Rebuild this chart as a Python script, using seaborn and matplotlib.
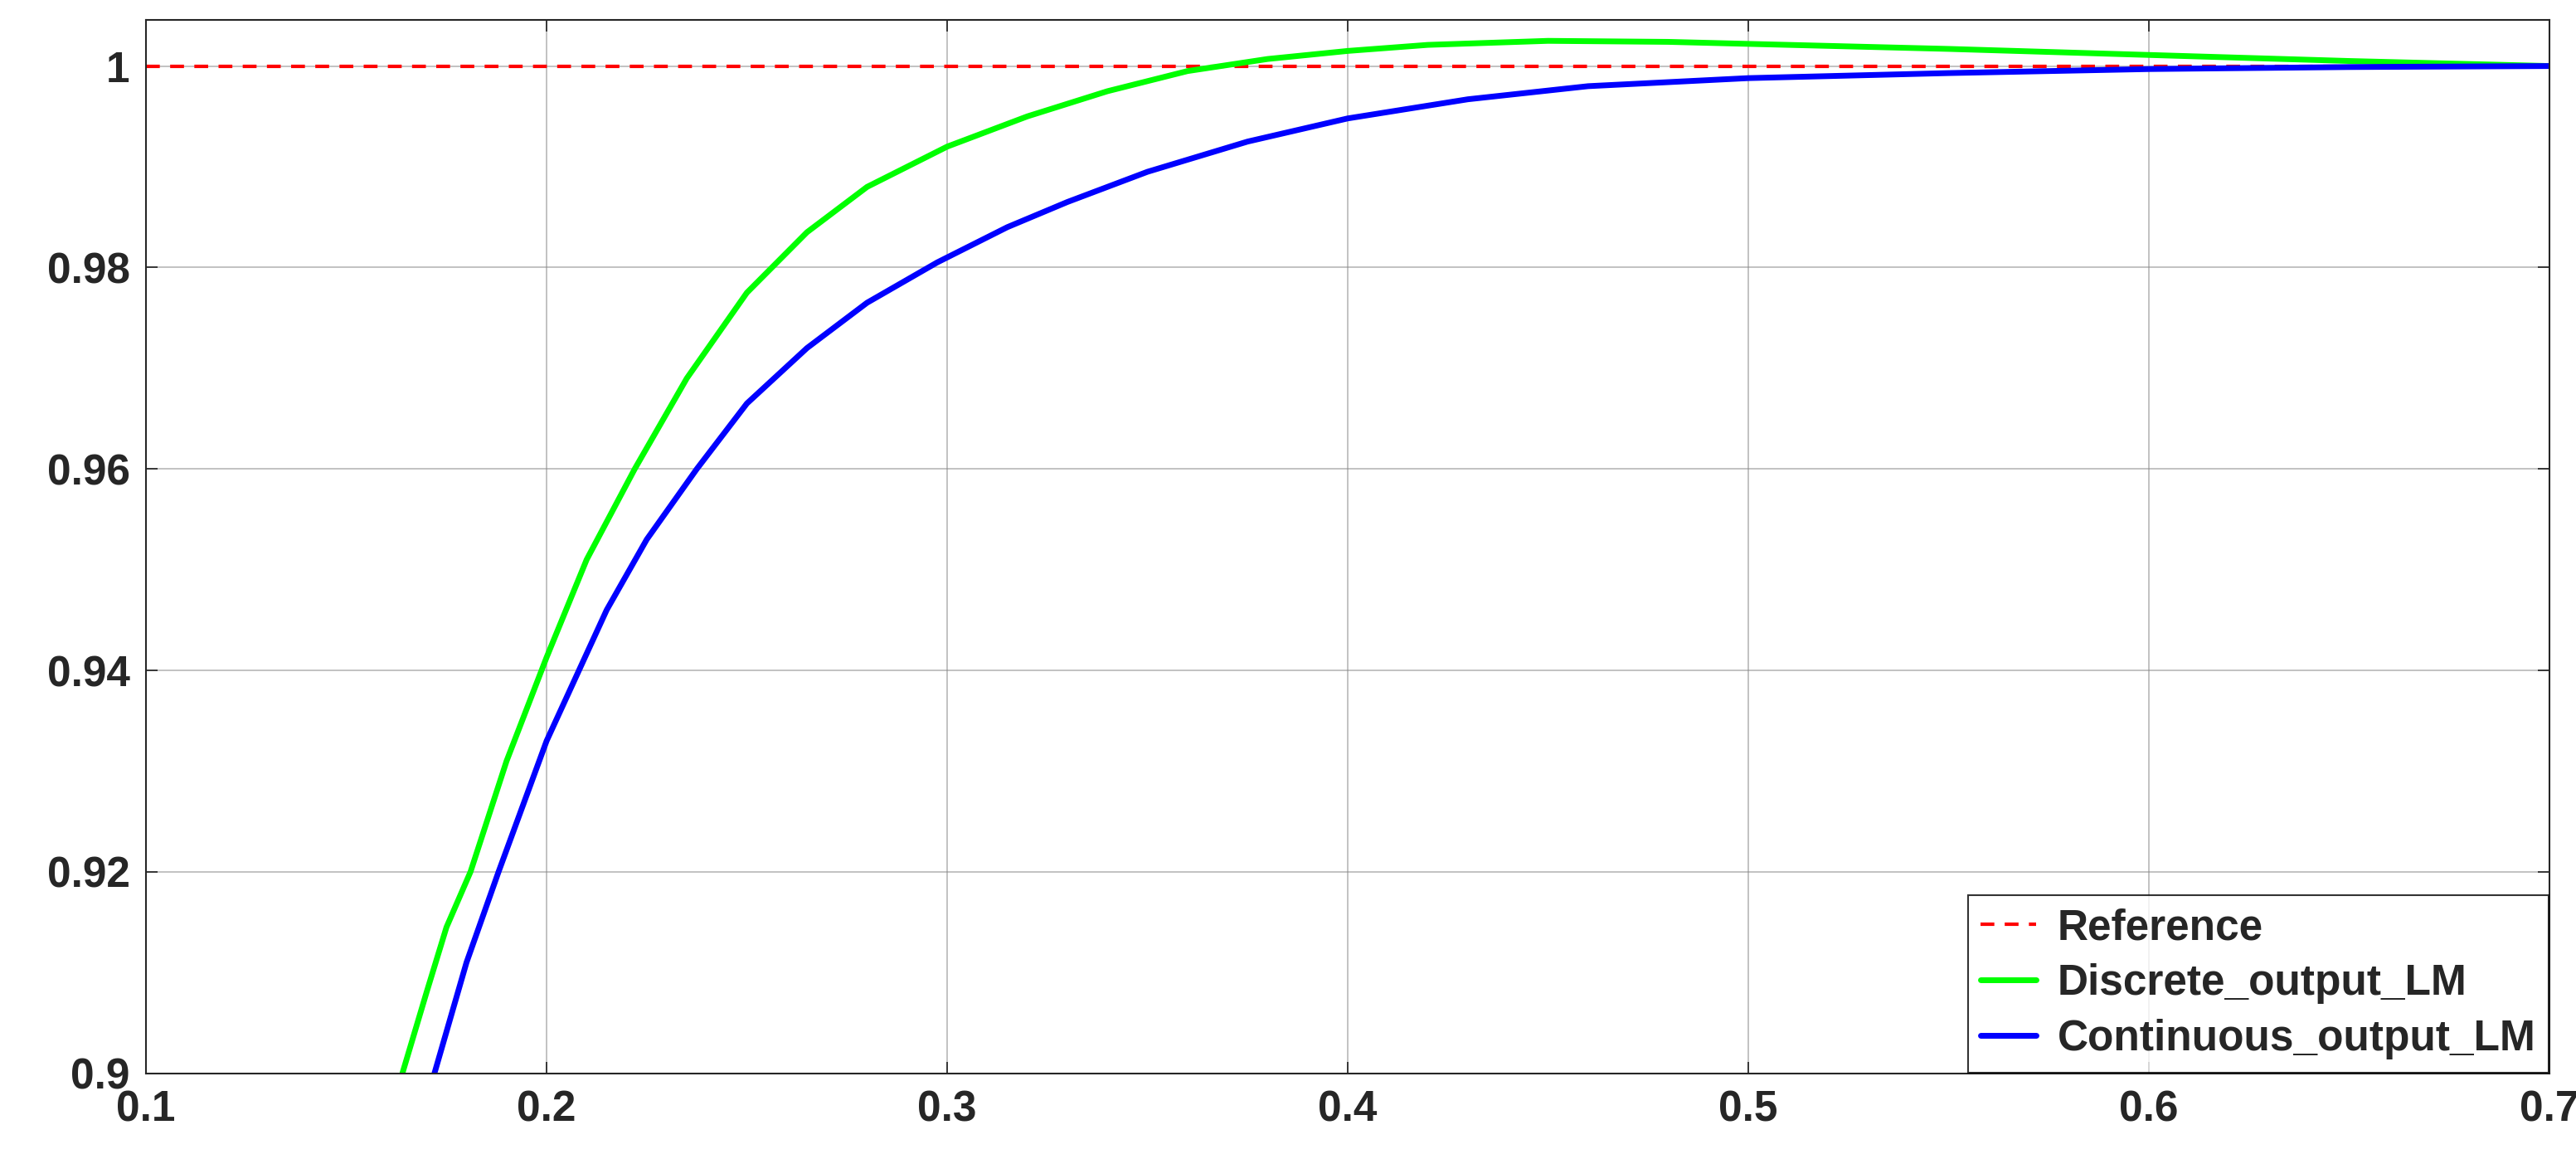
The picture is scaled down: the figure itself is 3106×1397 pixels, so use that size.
import matplotlib
matplotlib.use("Agg")
import matplotlib.pyplot as plt
import seaborn as sns

sns.set_theme(style="white")
plt.rcParams['font.family'] = ['Liberation Sans', 'DejaVu Sans']

ref_x = [0.1, 0.7]
ref_y = [1.0, 1.0]
disc_x = [0.164,0.17,0.175,0.181,0.19,0.2,0.21,0.222,0.235,0.25,0.265,0.28,0.3,0.32,0.34,0.36,0.38,0.4,0.42,0.45,0.48,0.5,0.55,0.6,0.65,0.7]
disc_y = [0.9,0.908,0.9145,0.92,0.931,0.9413,0.951,0.96,0.969,0.9775,0.9835,0.988,0.992,0.995,0.9975,0.9995,1.0007,1.0015,1.0021,1.0025,1.0024,1.0022,1.0017,1.0011,1.0005,1.0]
cont_x = [0.172,0.18,0.188,0.2,0.215,0.225,0.2375,0.25,0.265,0.28,0.2975,0.315,0.33,0.35,0.375,0.4,0.43,0.46,0.5,0.55,0.6,0.65,0.7]
cont_y = [0.9,0.911,0.92,0.933,0.946,0.953,0.96,0.9665,0.972,0.9765,0.9805,0.984,0.9865,0.9895,0.9925,0.9948,0.9967,0.998,0.9988,0.9993,0.9997,0.9999,1.0]
xticks = [0.1,0.2,0.3,0.4,0.5,0.6,0.7]
yticks = [0.9,0.92,0.94,0.96,0.98,1.0]
ytick_labels = ['0.9','0.92','0.94','0.96','0.98','1']

fig = plt.figure(figsize=(31.06, 13.97), dpi=100)
ax = fig.add_axes([0.0567, 0.074, 0.933, 0.909])
sns.lineplot(x=ref_x, y=ref_y, ax=ax, color='#ff0000', linestyle=(0,(4,3)), linewidth=3, label='Reference')
sns.lineplot(x=disc_x, y=disc_y, ax=ax, color='#00ff00', linewidth=5, label='Discrete_output_LM', sort=False, estimator=None)
sns.lineplot(x=cont_x, y=cont_y, ax=ax, color='#0000ff', linewidth=5, label='Continuous_output_LM', sort=False, estimator=None)
ax.set_xlim(0.1, 0.7)
ax.set_ylim(0.9, 1.0046)
ax.set_xticks(xticks)
ax.set_xticklabels([str(t) for t in xticks])
ax.set_yticks(yticks)
ax.set_yticklabels(ytick_labels)
ax.grid(True, color='#888888', linewidth=1.2, alpha=0.6)
ax.tick_params(labelsize=37, direction='in', length=10, pad=14, left=True, bottom=True, top=True, right=True, color='#262626')
for l in ax.get_xticklabels() + ax.get_yticklabels():
    l.set_fontweight('bold'); l.set_color('#262626')
for s in ax.spines.values():
    s.set_color('#262626'); s.set_linewidth(1.5)
leg = ax.legend(loc='lower right', prop={'size': 37, 'weight': 'bold'}, frameon=True, fancybox=False,
                edgecolor='black', borderaxespad=0.02, handlelength=1.3, handletextpad=0.5,
                borderpad=0.3, labelspacing=0.35)
leg.get_frame().set_linewidth(1.5)
fig.savefig('out.png', dpi=100)
